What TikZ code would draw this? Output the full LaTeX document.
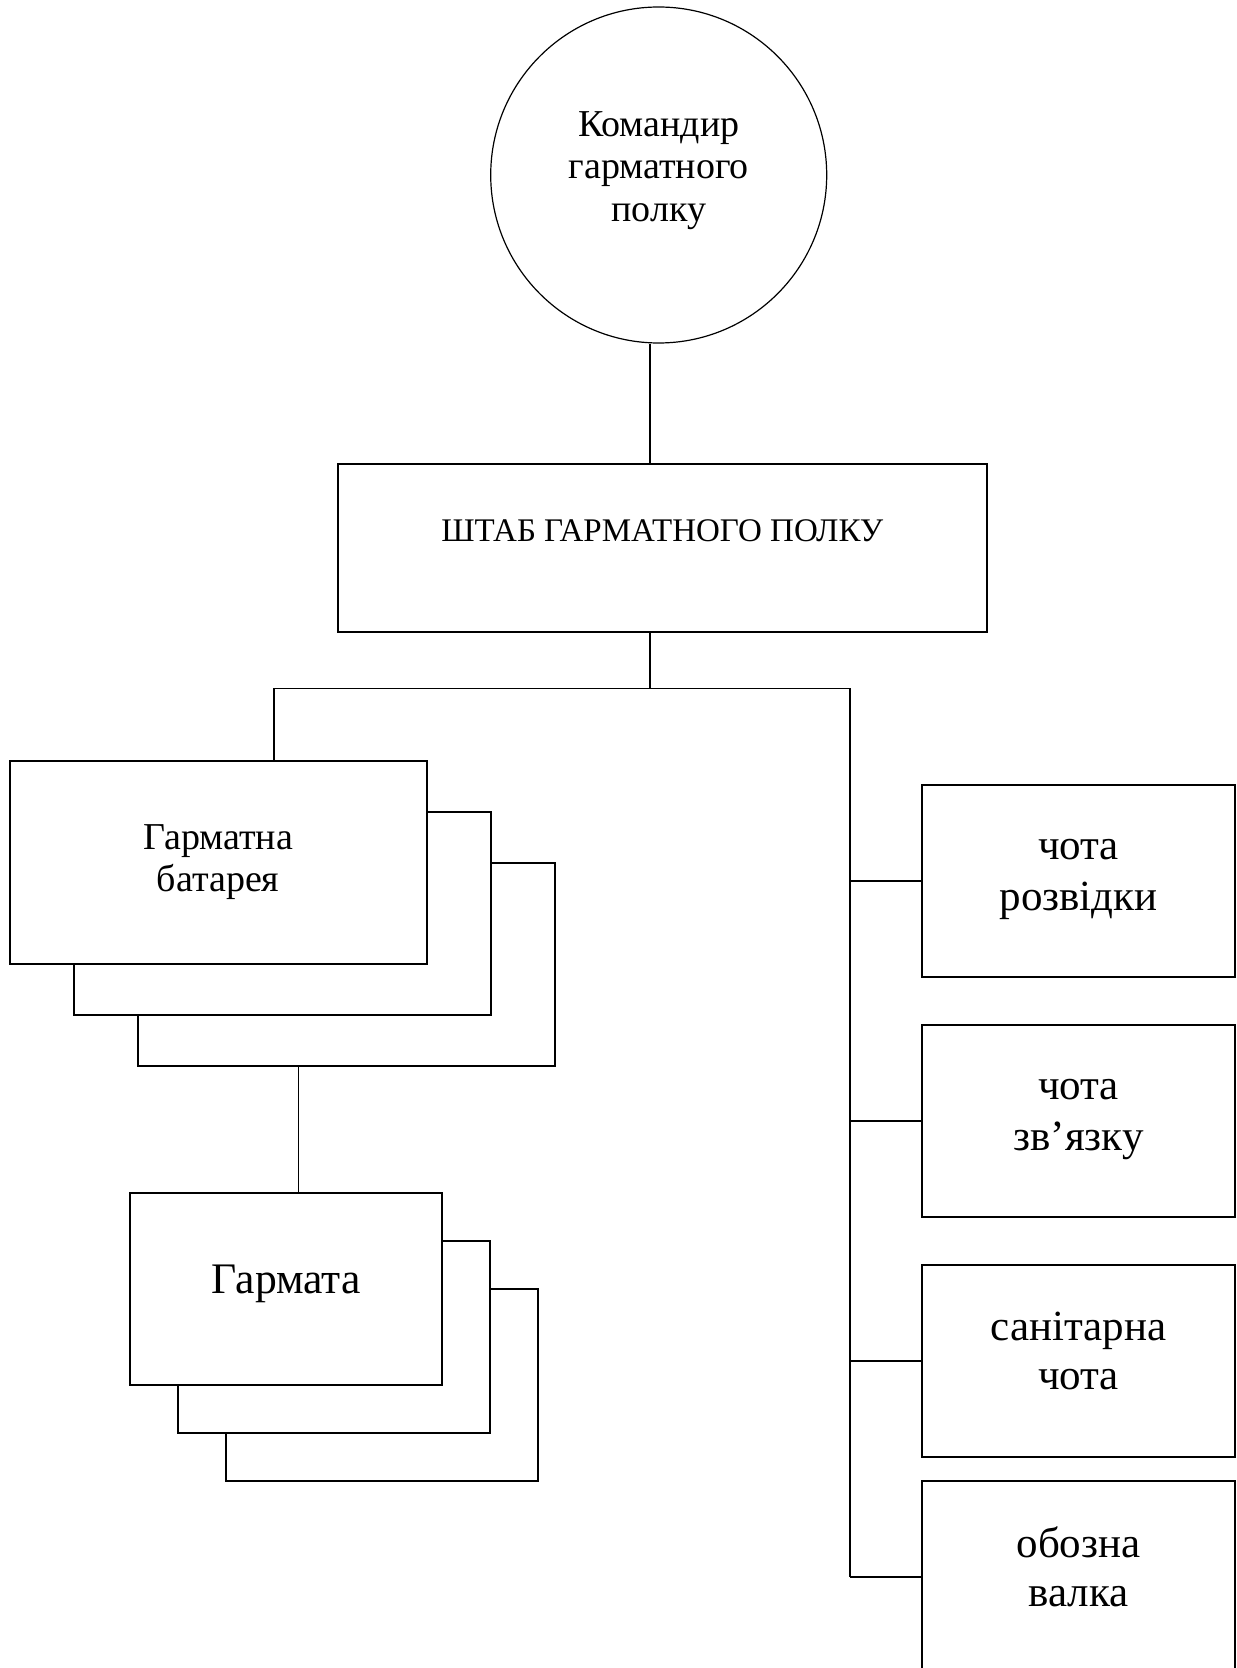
\documentclass[tikz,border=0pt]{standalone}
\usepackage{fontspec}
\setmainfont{Liberation Serif}
\newcommand\lstr{\rule[-0.42\baselineskip]{0pt}{\baselineskip}}

\begin{document}
\begin{tikzpicture}[x=0.5pt,y=-0.5pt,line width=0.8pt,
    box/.style={draw,fill=white,inner sep=0pt},
    bat/.style={box,minimum width=208.5pt,minimum height=101.5pt},
    gun/.style={box,minimum width=156pt,minimum height=96pt},
    unit/.style={box,align=center,minimum width=156.5pt,minimum height=96pt,
      font=\fontsize{21.5}{24.5}\selectfont}]

        \useasboundingbox (0,0) rectangle (1236,1668);

        % Commander
        \node[draw,circle,line width=0.6pt,minimum size=168pt,inner sep=0pt,align=center,
          font=\fontsize{19}{21.25}\selectfont] (kom) at (658.7,175)
          {Командир\lstr\\гарматного\lstr\\полку\lstr};

        % Staff
        \node[box,minimum width=324.35pt,minimum height=84pt,
          font=\fontsize{16.5}{19}\selectfont,text height=11pt,text depth=17.3pt]
          (shtab) at (662.35,548.2) {ШТАБ ГАРМАТНОГО ПОЛКУ};

        % Batteries
        \foreach \i in {2,1}
        \node[bat] (bat\i) at (218.2+64*\i,862.2+51*\i) {};
        \node[bat,align=center,font=\fontsize{19}{21}\selectfont] (bat) at (218.2,862.2)
          {Гарматна\strut\\батарея\strut};

        % Guns
        \foreach \i in {2,1}
        \node[gun] (gun\i) at (286.2+48*\i,1288.9+48*\i) {};
        \node[gun,font=\fontsize{21.8}{25}\selectfont,text height=14.5pt,text depth=10.4pt]
          (gun) at (286.2,1288.9) {Гармата};

        % Platoons
        \node[unit] (rozv) at (1078.5,881) {чота\lstr\\розвідки\lstr};
        \node[unit] (zv) at (1078.5,1121) {чота\lstr\\зв’язку\lstr};
        \node[unit] (san) at (1078.5,1361) {санітарна\lstr\\чота\lstr};
        \node[unit] (obz) at (1078.5,1577) {обозна\lstr\\валка\lstr};

        % Links
        \coordinate (split) at (650,688.5);
        \coordinate (lft) at (274,688.5);
        \coordinate (rgt) at (850,688.5);
        \coordinate (glink) at (298.5,1100);
        \draw (split |- kom.south) -- (split |- shtab.north);
        \draw (split |- shtab.south) -- (split);
        \draw (lft |- bat.north) -- (lft) -- (rgt) -- (rgt |- obz.west);
        \foreach \u in {rozv,zv,san,obz}
        \draw (rgt |- \u.west) -- (\u.west);
        \draw (glink |- bat2.south) -- (glink |- gun.north);

\end{tikzpicture}
\end{document}
